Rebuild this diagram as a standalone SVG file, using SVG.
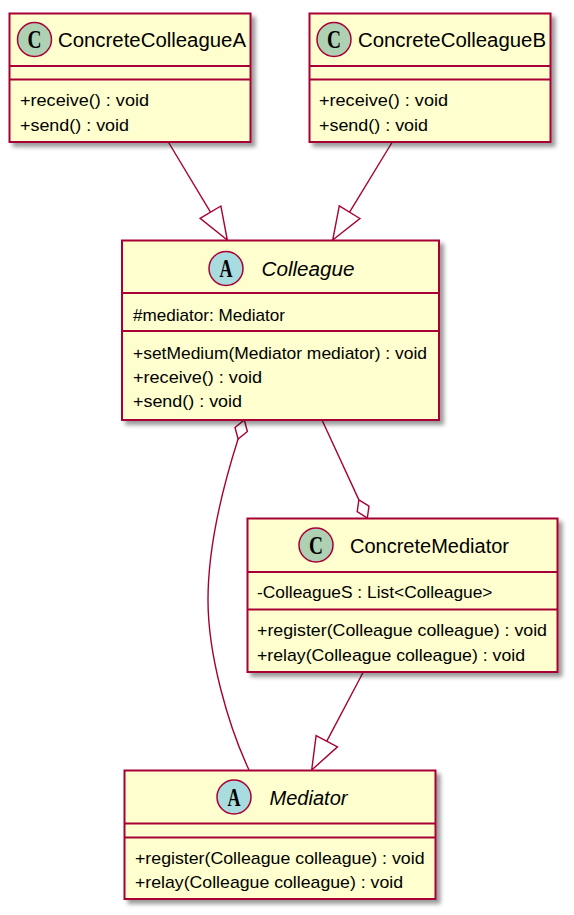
<svg xmlns="http://www.w3.org/2000/svg" width="574" height="915" viewBox="0 0 574 915">
<style>
.box{fill:#FEFECE;stroke:#A80036;stroke-width:2;filter:url(#shadow)}
.div{stroke:#A80036;stroke-width:2}
.cc{fill:#ADD1B2;stroke:#A80036;stroke-width:1.5}
.ca{fill:#A9DCDF;stroke:#A80036;stroke-width:1.5}
.glyph{font-family:"Liberation Serif","DejaVu Serif",serif;font-weight:bold;font-size:25px;fill:#000}
.name{font-family:"Liberation Sans",Arial,sans-serif;font-size:20px;fill:#000}
.abs{font-style:italic}
.mem{font-family:"Liberation Sans",Arial,sans-serif;font-size:17px;fill:#000}
.conn{stroke:#A80036;stroke-width:1.4;fill:none}
.head{stroke:#A80036;stroke-width:1.4;fill:none;stroke-linejoin:miter}
</style>
<defs>
<filter id="shadow" x="-10%" y="-10%" width="130%" height="130%">
<feGaussianBlur in="SourceAlpha" stdDeviation="2"/>
<feOffset dx="4" dy="4"/>
<feComponentTransfer><feFuncA type="linear" slope="0.4"/></feComponentTransfer>
<feMerge><feMergeNode/><feMergeNode in="SourceGraphic"/></feMerge>
</filter>
</defs>
<rect width="574" height="915" fill="#FFFFFF"/>

<g id="connectors">
<g id="A-extends-Colleague">
<line class="conn" x1="168.3" y1="142" x2="210.5" y2="212.2"/>
<polygon class="head" points="227.3,240 220.9,206 200.1,218.4"/>
</g>
<g id="B-extends-Colleague">
<line class="conn" x1="392.3" y1="142" x2="349.6" y2="212.2"/>
<polygon class="head" points="332.7,240 359.9,218.5 339.3,205.9"/>
</g>
<g id="Colleague-agg-Mediator">
<polygon class="head" points="244.3,420 247.4,431.5 238.1,439 235,427.5"/>
<path class="conn" d="M238.1,439 C225,480 208,540 208,600 C208,655 228,725 249,770"/>
</g>
<g id="ConcreteMediator-agg-Colleague">
<line class="conn" x1="322" y1="420" x2="358.9" y2="499.9"/>
<polygon class="head" points="358.9,499.9 369,506.2 367.3,518 357.2,511.6"/>
</g>
<g id="ConcreteMediator-extends-Mediator">
<line class="conn" x1="363.3" y1="672" x2="326.8" y2="741.2"/>
<polygon class="head" points="311.7,770 337.5,746.8 316.1,735.6"/>
</g>
</g>

<g id="ConcreteColleagueA">
<rect class="box" x="9.5" y="13.5" width="241" height="128.5"/>
<line class="div" x1="9.5" y1="66" x2="250.5" y2="66"/>
<line class="div" x1="9.5" y1="79.5" x2="250.5" y2="79.5"/>
<circle class="cc" cx="34.5" cy="39.5" r="17"/>
<text class="glyph" x="27.5" y="48" textLength="14" lengthAdjust="spacingAndGlyphs">C</text>
<text class="name" x="58" y="47" textLength="188" lengthAdjust="spacingAndGlyphs">ConcreteColleagueA</text>
<text class="mem" x="20" y="106" textLength="129" lengthAdjust="spacingAndGlyphs">+receive() : void</text>
<text class="mem" x="20" y="130.5" textLength="109" lengthAdjust="spacingAndGlyphs">+send() : void</text>
</g>

<g id="ConcreteColleagueB">
<rect class="box" x="309.5" y="13.5" width="241" height="128.5"/>
<line class="div" x1="309.5" y1="66" x2="550.5" y2="66"/>
<line class="div" x1="309.5" y1="79.5" x2="550.5" y2="79.5"/>
<circle class="cc" cx="334" cy="39.5" r="17"/>
<text class="glyph" x="327" y="48" textLength="14" lengthAdjust="spacingAndGlyphs">C</text>
<text class="name" x="358" y="47" textLength="188" lengthAdjust="spacingAndGlyphs">ConcreteColleagueB</text>
<text class="mem" x="319" y="106" textLength="129" lengthAdjust="spacingAndGlyphs">+receive() : void</text>
<text class="mem" x="319" y="130.5" textLength="109" lengthAdjust="spacingAndGlyphs">+send() : void</text>
</g>

<g id="Colleague">
<rect class="box" x="122" y="240.5" width="317" height="179.5"/>
<line class="div" x1="122" y1="293" x2="439" y2="293"/>
<line class="div" x1="122" y1="331" x2="439" y2="331"/>
<circle class="ca" cx="226" cy="268.5" r="17"/>
<text class="glyph" x="219.5" y="277" textLength="13" lengthAdjust="spacingAndGlyphs">A</text>
<text class="name abs" x="261.5" y="275.5" textLength="93" lengthAdjust="spacingAndGlyphs">Colleague</text>
<text class="mem" x="133" y="321" textLength="152" lengthAdjust="spacingAndGlyphs">#mediator: Mediator</text>
<text class="mem" x="133" y="358.5" textLength="294" lengthAdjust="spacingAndGlyphs">+setMedium(Mediator mediator) : void</text>
<text class="mem" x="133" y="382.5" textLength="129" lengthAdjust="spacingAndGlyphs">+receive() : void</text>
<text class="mem" x="133" y="407" textLength="109" lengthAdjust="spacingAndGlyphs">+send() : void</text>
</g>

<g id="ConcreteMediator">
<rect class="box" x="247.5" y="518.5" width="310" height="153.5"/>
<line class="div" x1="247.5" y1="572" x2="557.5" y2="572"/>
<line class="div" x1="247.5" y1="609.5" x2="557.5" y2="609.5"/>
<circle class="cc" cx="316" cy="545" r="17"/>
<text class="glyph" x="309" y="553.5" textLength="14" lengthAdjust="spacingAndGlyphs">C</text>
<text class="name" x="350" y="553" textLength="159" lengthAdjust="spacingAndGlyphs">ConcreteMediator</text>
<text class="mem" x="257" y="598" textLength="235.5" lengthAdjust="spacingAndGlyphs">-ColleagueS : List&lt;Colleague&gt;</text>
<text class="mem" x="257" y="636" textLength="290" lengthAdjust="spacingAndGlyphs">+register(Colleague colleague) : void</text>
<text class="mem" x="257" y="660.5" textLength="268" lengthAdjust="spacingAndGlyphs">+relay(Colleague colleague) : void</text>
</g>

<g id="Mediator">
<rect class="box" x="124.5" y="770.5" width="311" height="128.5"/>
<line class="div" x1="124.5" y1="823.5" x2="435.5" y2="823.5"/>
<line class="div" x1="124.5" y1="837.5" x2="435.5" y2="837.5"/>
<circle class="ca" cx="234" cy="797" r="17"/>
<text class="glyph" x="227.5" y="805.5" textLength="13" lengthAdjust="spacingAndGlyphs">A</text>
<text class="name abs" x="269.5" y="805" textLength="78" lengthAdjust="spacingAndGlyphs">Mediator</text>
<text class="mem" x="135" y="863.5" textLength="289.5" lengthAdjust="spacingAndGlyphs">+register(Colleague colleague) : void</text>
<text class="mem" x="135" y="888" textLength="268" lengthAdjust="spacingAndGlyphs">+relay(Colleague colleague) : void</text>
</g>
</svg>
